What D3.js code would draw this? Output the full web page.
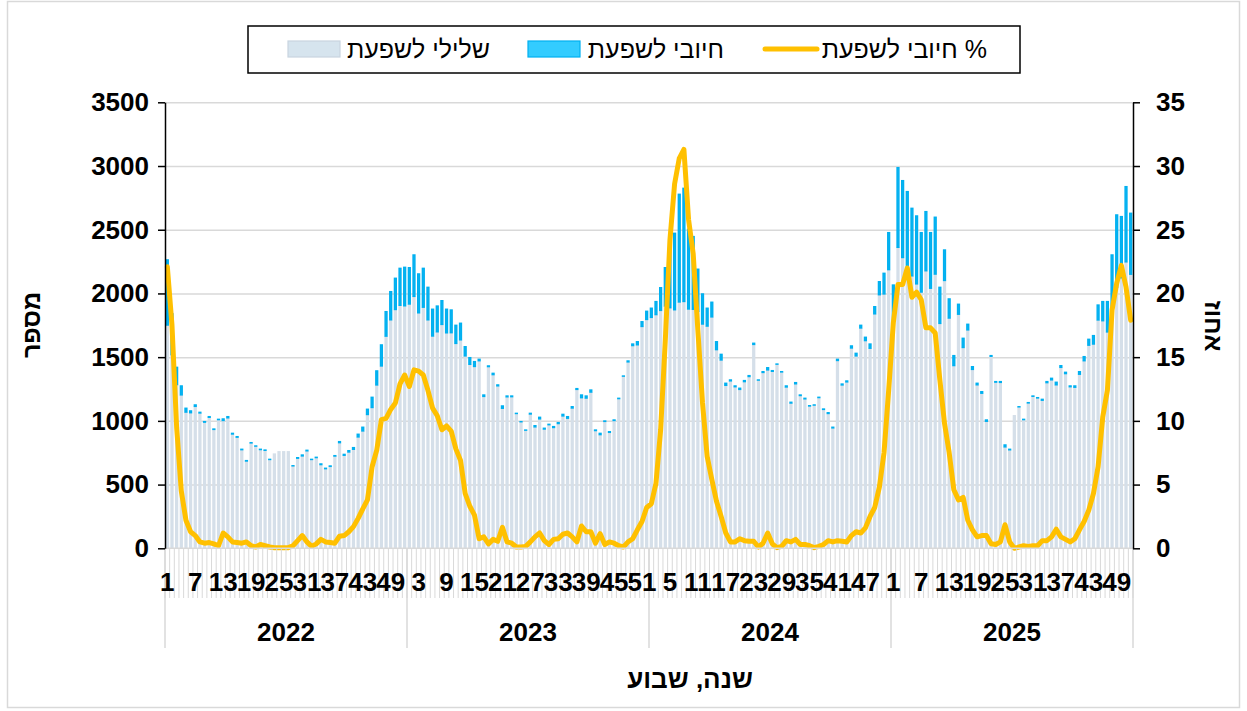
<!DOCTYPE html>
<html>
<head>
<meta charset="utf-8">
<script src="https://cdn.jsdelivr.net/npm/d3@7"></script>
<style>
  body { margin: 0; background: #fff; }
  svg { display: block; font-family: "Liberation Sans", Arial, sans-serif; }
</style>
</head>
<body>
<svg id="chart" width="1247" height="711"></svg>
<script>
// years and weeks shown on the two level category axis
const years = ['2022', '2023', '2024', '2025'];
const weeksPerYear = 52;
const labelEvery = 6;

// left axis (count) and right axis (percent) ticks
const leftTicks = [0, 500, 1000, 1500, 2000, 2500, 3000, 3500];
const rightTicks = [0, 5, 10, 15, 20, 25, 30, 35];

// weekly negative tests, 2022 week 1 .. 2025 week 52
const negative = [
  1752,1520,1285,1204,1069,1064,1114,1062,990,1028,933,1010,1003,1024,897,872,774,685,827,802,775,769,697,745,763,763,
  763,647,707,725,765,697,712,657,625,643,724,829,730,756,777,874,921,1050,1105,1282,1431,1665,1793,1874,1907,1903,
  1917,1977,1848,1892,1793,1666,1699,1757,1691,1692,1608,1636,1510,1444,1427,1472,1192,1426,1363,1275,1099,1189,1190,1058,993,927,
  1054,953,1016,936,970,948,979,1039,1021,1101,1247,1182,1179,1226,924,892,996,910,1003,1175,1351,1463,1591,1597,1741,1796,
  1812,1834,1867,1902,1888,1872,1933,1937,1878,1876,1860,1760,1744,1816,1559,1478,1279,1314,1268,1247,1308,1348,1600,1320,1380,1400,
  1389,1445,1384,1266,1140,1291,1199,1173,1117,1124,1183,1090,1058,945,1474,1282,1306,1572,1510,1729,1630,1570,1840,1990,1996,2187,
  1736,2362,2282,2199,2138,2075,2011,2178,2041,2152,1765,2102,1807,1434,1837,1576,1714,1404,1283,1217,997,1507,1304,1302,796,773,
  1046,1110,1010,1141,1193,1180,1162,1300,1322,1283,1420,1371,1268,1264,1366,1472,1594,1603,1792,1786,1698,1871,2050,2123,2248,2151
];

// weekly positive tests
const positive = [
  511,320,135,70,30,14,11,5,4,5,3,2,12,9,5,4,3,3,2,1,2,2,1,0,0,0,
  0,1,4,7,4,1,2,5,3,3,3,8,7,10,13,21,29,41,80,110,165,192,221,245,290,302,
  285,325,305,305,255,210,202,186,185,178,142,130,72,52,38,11,11,5,10,7,18,6,5,1,1,1,
  5,9,12,6,3,7,7,12,12,10,6,21,16,16,4,10,3,5,4,2,1,7,12,24,37,64,
  72,102,178,300,540,600,845,888,625,570,330,236,140,115,62,44,16,7,6,9,8,7,9,1,6,17,
  5,1,2,8,6,9,4,4,2,1,2,3,6,5,9,7,7,16,20,21,26,33,56,102,162,290,
  330,625,603,600,530,533,466,464,436,446,283,239,150,78,78,72,44,21,12,12,10,5,4,6,15,4,
  0,1,2,2,2,2,7,8,12,20,13,10,6,10,20,32,46,66,117,150,238,431,566,480,590,478
];

// weekly percent positive
const percent = [
  22.1,17.5,9.5,4.5,2.2,1.3,1.0,0.5,0.4,0.45,0.35,0.2,1.2,0.9,0.5,0.45,0.4,0.5,0.2,0.1,0.3,0.2,0.1,0.05,0.05,0.05,
  0.05,0.2,0.6,1.0,0.5,0.15,0.35,0.7,0.5,0.45,0.4,0.95,1.0,1.3,1.7,2.35,3.1,3.8,6.4,7.7,10.1,10.2,10.9,11.4,12.9,13.6,
  12.7,14.0,13.9,13.6,12.4,11.0,10.4,9.3,9.6,9.2,7.8,6.9,4.3,3.3,2.6,0.75,0.9,0.35,0.7,0.55,1.65,0.5,0.4,0.1,0.1,0.15,
  0.5,0.9,1.2,0.6,0.3,0.7,0.75,1.1,1.2,0.9,0.5,1.75,1.3,1.3,0.4,1.15,0.3,0.5,0.4,0.2,0.1,0.5,0.75,1.45,2.1,3.2,
  3.5,5.1,9.3,16.3,24.2,28.6,30.6,31.3,25.8,23.1,17.1,11.4,7.2,5.4,3.7,2.5,1.2,0.5,0.5,0.75,0.6,0.55,0.55,0.1,0.4,1.2,
  0.35,0.05,0.15,0.6,0.5,0.7,0.3,0.3,0.2,0.05,0.15,0.3,0.6,0.5,0.6,0.55,0.5,1.0,1.3,1.2,1.6,2.5,3.2,4.8,7.5,12.4,
  17.7,20.7,20.7,22.0,19.7,20.1,19.5,17.3,17.3,16.9,13.2,9.8,7.5,4.6,3.8,4.0,2.2,1.45,0.9,1.0,1.0,0.35,0.3,0.5,1.85,0.5,
  0.0,0.1,0.2,0.15,0.2,0.2,0.6,0.6,0.9,1.5,0.9,0.7,0.5,0.75,1.45,2.1,3.0,4.3,6.4,10.3,12.4,18.7,20.8,22.2,20.5,17.9
];

const negLabel = 'שלילי לשפעת';
const posLabel = 'חיובי לשפעת';
const pctLabel = '% חיובי לשפעת';

function makeChart() {
    let svg = d3.select('#chart');
    let left = 165, right = 1133, top = 102.3, bottom = 548.3;
    let numFont = '26px';

    let dataset = negative.map((d, i) => ({
        idx: i,
        year: years[Math.floor(i / weeksPerYear)],
        week: (i % weeksPerYear) + 1,
        neg: d,
        pos: positive[i],
        pct: percent[i]
    }));

    // outer chart frame
    svg.append('rect')
        .attr('x', 7.5).attr('y', 1.5)
        .attr('width', 1232).attr('height', 706)
        .attr('fill', 'none')
        .attr('stroke', '#d9d9d9')
        .attr('stroke-width', 1.5);

    let xScale = d3.scaleBand()
        .domain(dataset.map(d => d.idx))
        .range([left, right])
        .paddingInner(0.3)
        .paddingOuter(0.15);

    let yScale = d3.scaleLinear().domain([0, 3500]).range([bottom, top]);
    let y2Scale = d3.scaleLinear().domain([0, 35]).range([bottom, top]);

    // gridlines
    svg.append('g')
        .attr('transform', `translate(${left},0)`)
        .call(d3.axisLeft(yScale).tickValues(leftTicks.slice(1)).tickSize(-(right - left)).tickFormat(''))
        .call(g => g.select('.domain').remove())
        .call(g => g.selectAll('line').attr('stroke', '#d9d9d9').attr('stroke-width', 1.5));

    // stacked bars
    let stack = d3.stack().keys(['neg', 'pos'])(dataset);
    let bw = xScale.bandwidth();

    svg.append('g')
        .selectAll('rect')
        .data(stack[0])
        .enter()
        .append('rect')
        .attr('x', d => xScale(d.data.idx))
        .attr('y', d => yScale(d[1]))
        .attr('width', bw)
        .attr('height', d => yScale(d[0]) - yScale(d[1]))
        .attr('fill', '#d5dfe9');

    svg.append('g')
        .selectAll('rect')
        .data(stack[1].filter(d => d.data.pos > 0))
        .enter()
        .append('rect')
        .attr('x', d => xScale(d.data.idx) + 0.7)
        .attr('y', d => yScale(d[1]))
        .attr('width', bw - 1.4)
        .attr('height', d => yScale(d[0]) - yScale(d[1]))
        .attr('fill', '#0cb4f1')
        .attr('stroke', '#00b0f0')
        .attr('stroke-width', 1.4);

    // percent line on the secondary axis
    let line = d3.line()
        .x(d => xScale(d.idx) + bw / 2)
        .y(d => y2Scale(d.pct));

    svg.append('path')
        .datum(dataset)
        .attr('d', line)
        .attr('fill', 'none')
        .attr('stroke', '#ffc000')
        .attr('stroke-width', 5)
        .attr('stroke-linejoin', 'round')
        .attr('stroke-linecap', 'round');

    // category axis: tick comb, week labels, year labels, separators
    let step = xScale.step();
    let x0 = xScale(0) - xScale.paddingInner() * step / 2;
    let combs = d3.range(dataset.length + 1);
    let catAxis = svg.append('g');
    catAxis.selectAll('line.comb')
        .data(combs)
        .enter()
        .append('line')
        .attr('class', 'comb')
        .attr('x1', d => x0 + d * step).attr('x2', d => x0 + d * step)
        .attr('y1', bottom).attr('y2', 598)
        .attr('stroke', '#d9d9d9')
        .attr('stroke-width', 1);

    catAxis.append('line')
        .attr('x1', left).attr('x2', right)
        .attr('y1', bottom).attr('y2', bottom)
        .attr('stroke', '#d9d9d9')
        .attr('stroke-width', 1.5);

    catAxis.selectAll('line.sep')
        .data(d3.range(years.length + 1))
        .enter()
        .append('line')
        .attr('class', 'sep')
        .attr('x1', d => x0 + d * weeksPerYear * step).attr('x2', d => x0 + d * weeksPerYear * step)
        .attr('y1', bottom).attr('y2', 648)
        .attr('stroke', '#d9d9d9')
        .attr('stroke-width', 1.5);

    catAxis.selectAll('text.week')
        .data(dataset.filter(d => d.idx % labelEvery === 0))
        .enter()
        .append('text')
        .attr('class', 'week')
        .attr('x', d => xScale(d.idx) + bw / 2)
        .attr('y', 591)
        .attr('text-anchor', 'middle')
        .attr('font-size', numFont)
        .attr('font-weight', 'bold')
        .attr('fill', '#000')
        .text(d => d.week);

    catAxis.selectAll('text.year')
        .data(years)
        .enter()
        .append('text')
        .attr('class', 'year')
        .attr('x', (d, i) => x0 + (i + 0.5) * weeksPerYear * step)
        .attr('y', 641)
        .attr('text-anchor', 'middle')
        .attr('font-size', numFont)
        .attr('font-weight', 'bold')
        .attr('fill', '#000')
        .text(d => d);

    // value axes
    let yAxisGroup = svg.append('g')
        .attr('transform', `translate(${left},0)`)
        .call(d3.axisLeft(yScale).tickValues(leftTicks).tickFormat(d3.format('d'))
            .tickSize(7).tickSizeOuter(0).tickPadding(9));
    let y2AxisGroup = svg.append('g')
        .attr('transform', `translate(${right},0)`)
        .call(d3.axisRight(y2Scale).tickValues(rightTicks).tickFormat(d3.format('d'))
            .tickSize(7).tickSizeOuter(0).tickPadding(16));

    [yAxisGroup, y2AxisGroup].forEach(g => {
        g.select('.domain').attr('stroke', '#000').attr('stroke-width', 1.5);
        g.selectAll('line').attr('stroke', '#000').attr('stroke-width', 1.5);
        g.selectAll('text')
            .attr('font-family', '"Liberation Sans", Arial, sans-serif')
            .attr('font-size', numFont)
            .attr('font-weight', 'bold')
            .attr('fill', '#000');
    });

    // axis titles
    svg.append('text')
        .attr('transform', 'translate(40,325) rotate(-90)')
        .attr('text-anchor', 'middle')
        .attr('direction', 'rtl')
        .attr('font-size', '25px')
        .attr('font-weight', 'bold')
        .text('מספר');

    svg.append('text')
        .attr('transform', 'translate(1205,326) rotate(90)')
        .attr('text-anchor', 'middle')
        .attr('direction', 'rtl')
        .attr('font-size', '25px')
        .attr('font-weight', 'bold')
        .text('אחוז');

    svg.append('text')
        .attr('x', 690).attr('y', 688)
        .attr('text-anchor', 'middle')
        .attr('direction', 'rtl')
        .attr('font-size', '26px')
        .attr('font-weight', 'bold')
        .text('שנה, שבוע');

    // legend
    let legend = svg.append('g');
    legend.append('rect')
        .attr('x', 248).attr('y', 26)
        .attr('width', 772).attr('height', 47)
        .attr('fill', '#fff')
        .attr('stroke', '#000')
        .attr('stroke-width', 1.5);

    legend.append('rect')
        .attr('x', 288).attr('y', 41).attr('width', 52).attr('height', 16)
        .attr('fill', '#d6e4ee').attr('stroke', '#c8d4df').attr('stroke-width', 1.2);
    legend.append('rect')
        .attr('x', 528).attr('y', 41).attr('width', 52).attr('height', 16)
        .attr('fill', '#33ccff').attr('stroke', '#00b0f0').attr('stroke-width', 1.2);
    legend.append('line')
        .attr('x1', 765).attr('x2', 817).attr('y1', 49).attr('y2', 49)
        .attr('stroke', '#ffc000').attr('stroke-width', 5).attr('stroke-linecap', 'round');

    let items = [[negLabel, 490], [posLabel, 724], [pctLabel, 987]];
    legend.selectAll('text')
        .data(items)
        .enter()
        .append('text')
        .attr('x', d => d[1])
        .attr('y', 58)
        .attr('direction', 'rtl')
        .attr('text-anchor', 'start')
        .attr('font-size', '25px')
        .attr('fill', '#000')
        .text(d => d[0]);
}

window.onload = function() {
    makeChart();
};
</script>
</body>
</html>
